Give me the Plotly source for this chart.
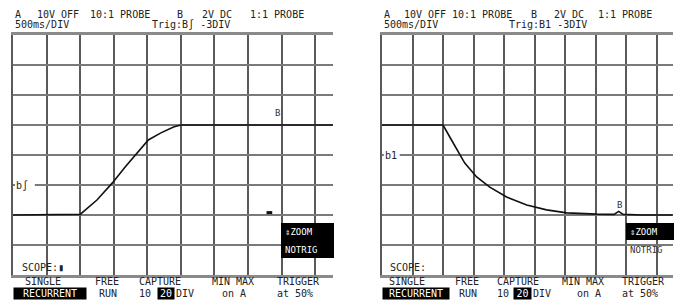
import plotly.graph_objects as go

W, H = 677, 301

# ---------------- data (divisions) ----------------
left_x = [0.0, 0.5, 1.0, 1.5, 2.0, 2.5, 2.96, 3.34, 3.7, 4.03, 4.39, 4.78, 5.0, 6.0, 7.0, 8.0, 9.0, 9.53]
left_y = [2.0, 2.0, 2.0, 2.0, 2.02, 2.5, 3.07, 3.6, 4.07, 4.5, 4.73, 4.93, 5.0, 5.0, 5.0, 5.0, 5.0, 5.0]

right_x = [0.0, 0.5, 1.0, 1.5, 2.0, 2.22, 2.45, 2.71, 3.1, 3.53, 4.08, 4.74, 5.39, 6.05, 7.03, 7.6, 7.75, 7.9, 8.5, 9.0, 9.52]
right_y = [5.0, 5.0, 5.0, 5.0, 5.0, 4.6, 4.17, 3.73, 3.27, 2.93, 2.6, 2.33, 2.17, 2.07, 2.03, 2.02, 2.12, 2.02, 2.0, 2.0, 2.0]

left_mark_x = [7.55, 7.72]
left_mark_y = [2.08, 2.08]

# header / footer texts
hdr1 = ["A", "10V OFF", "10:1 PROBE", "B", "2V DC", "1:1 PROBE"]
hdr2_left = ["500ms/DIV", "Trig:B\u222b -3DIV"]
hdr2_right = ["500ms/DIV", "Trig:B1 -3DIV"]
menu_top = ["SINGLE", "FREE", "CAPTURE", "MIN MAX", "TRIGGER"]
menu_bot = ["RUN", "on A", "at 50%"]

def px(x):
    return x / W

def py(y):
    return 1 - y / H

fig = go.Figure()

panels = [
    dict(x0=13, x1=333, xa="x", ya="y", xs="xaxis", ys="yaxis"),
    dict(x0=382, x1=673, xa="x2", ya="y2", xs="xaxis2", ys="yaxis2"),
]
XR = [0, 9.53]
for p in panels:
    fig.update_layout(**{
        p["xs"]: dict(domain=[px(p["x0"]), px(p["x1"])], range=XR, dtick=1, tick0=0,
                      showgrid=True, gridcolor="#5a5a5a", gridwidth=2, zeroline=False,
                      showticklabels=False, ticks="", showline=True, mirror=True,
                      linecolor="#8a8a8a", linewidth=3, anchor=p["ya"], fixedrange=True),
        p["ys"]: dict(domain=[1 - 275 / H, 1 - 35 / H], range=[0, 8], dtick=1, tick0=0,
                      showgrid=True, gridcolor="#7a7a7a", gridwidth=2, zeroline=False,
                      showticklabels=False, ticks="", showline=True, mirror=False,
                      linecolor="#5a5a5a", linewidth=2, anchor=p["xa"], fixedrange=True),
    })

fig.add_trace(go.Scatter(x=left_x, y=left_y, mode="lines", xaxis="x", yaxis="y",
                         line=dict(color="#111", width=1.6), hoverinfo="skip"))
fig.add_trace(go.Scatter(x=left_mark_x, y=left_mark_y, mode="lines", xaxis="x", yaxis="y",
                         line=dict(color="#111", width=3), hoverinfo="skip"))
fig.add_trace(go.Scatter(x=right_x, y=right_y, mode="lines", xaxis="x2", yaxis="y2",
                         line=dict(color="#111", width=1.6), hoverinfo="skip"))

shapes = []
annos = []
FONT = "DejaVu Sans Mono"

def txt(x, y, s, size=10, color="#222", **kw):
    d = dict(x=px(x), y=py(y), xref="paper", yref="paper", text=s, showarrow=False,
             xanchor="left", yanchor="middle", font=dict(family=FONT, size=size, color=color))
    d.update(kw)
    annos.append(d)

def inv(x, y, s, w, size=10):
    annos.append(dict(x=px(x), y=py(y), xref="paper", yref="paper", text=s, showarrow=False,
                      xanchor="left", yanchor="middle", bgcolor="black", width=w, borderpad=0,
                      font=dict(family=FONT, size=size, color="white")))

# ---- header texts
lh1 = [13, 35, 88, 175, 200, 248]
rh1 = [382, 402, 450, 529, 552, 596]
for xs, lst in ((lh1, hdr1), (rh1, hdr1)):
    for x, s in zip(xs, lst):
        txt(x, 15, s)
txt(13, 25, hdr2_left[0]); txt(150, 25, hdr2_left[1])
txt(382, 25, hdr2_right[0]); txt(507, 25, hdr2_right[1])

# ---- trigger level labels (cover the grid line under the label)
shapes.append(dict(type="rect", xref="x", yref="y", x0=0.06, x1=0.65, y0=2.9, y1=3.1,
                   fillcolor="white", line=dict(width=0), layer="above"))
txt(14, 185, "b\u222b", size=10)
shapes.append(dict(type="rect", xref="x2", yref="y2", x0=0.06, x1=0.58, y0=3.9, y1=4.1,
                   fillcolor="white", line=dict(width=0), layer="above"))
txt(383, 155, "b1", size=10)

# ---- B markers
annos.append(dict(x=7.87, y=5.17, xref="x", yref="y", text="B", showarrow=False,
                  xanchor="center", yanchor="bottom", font=dict(family=FONT, size=9, color="#333")))
annos.append(dict(x=7.78, y=2.1, xref="x2", yref="y2", text="B", showarrow=False,
                  xanchor="center", yanchor="bottom", font=dict(family=FONT, size=9, color="#333")))

# ---- ZOOM boxes
shapes.append(dict(type="rect", xref="paper", yref="paper", x0=px(281), x1=px(334), y0=py(258), y1=py(223),
                   fillcolor="black", line=dict(width=0), layer="above"))
txt(283, 232, "\u21d5ZOOM", size=9, color="white")
txt(283, 250, "NOTRIG", size=9, color="white")
shapes.append(dict(type="rect", xref="paper", yref="paper", x0=px(626), x1=px(674), y0=py(240), y1=py(223),
                   fillcolor="black", line=dict(width=0), layer="above"))
txt(628, 232, "\u21d5ZOOM", size=9, color="white")
txt(628, 250, "NOTRIG", size=9, color="#333")

# ---- footer
txt(20, 267, "SCOPE:\u25ae", size=10)
txt(388, 267, "SCOPE:", size=10)
lm = [23, 93, 137, 210, 275]
rm = [387, 453, 495, 560, 620]
for xs in (lm, rm):
    for x, s in zip(xs, menu_top):
        txt(x, 281, s)
# row 2 left
inv(13, 293, "RECURRENT", 72)
txt(97, 293, menu_bot[0])
txt(137, 293, "10")
inv(157, 293, "20", 16)
txt(174, 293, "DIV")
txt(220, 293, menu_bot[1])
txt(275, 293, menu_bot[2])
# row 2 right
inv(382, 293, "RECURRENT", 66)
txt(457, 293, menu_bot[0])
txt(495, 293, "10")
inv(513, 293, "20", 17)
txt(531, 293, "DIV")
txt(575, 293, menu_bot[1])
txt(620, 293, menu_bot[2])

fig.update_layout(width=W, height=H, margin=dict(l=0, r=0, t=0, b=0),
                  paper_bgcolor="white", plot_bgcolor="white", showlegend=False,
                  shapes=shapes, annotations=annos)

fig.write_html("out.html", config={"displayModeBar": False},
               post_script="document.body.style.margin='0';document.body.style.padding='0';document.body.style.overflow='hidden';")
